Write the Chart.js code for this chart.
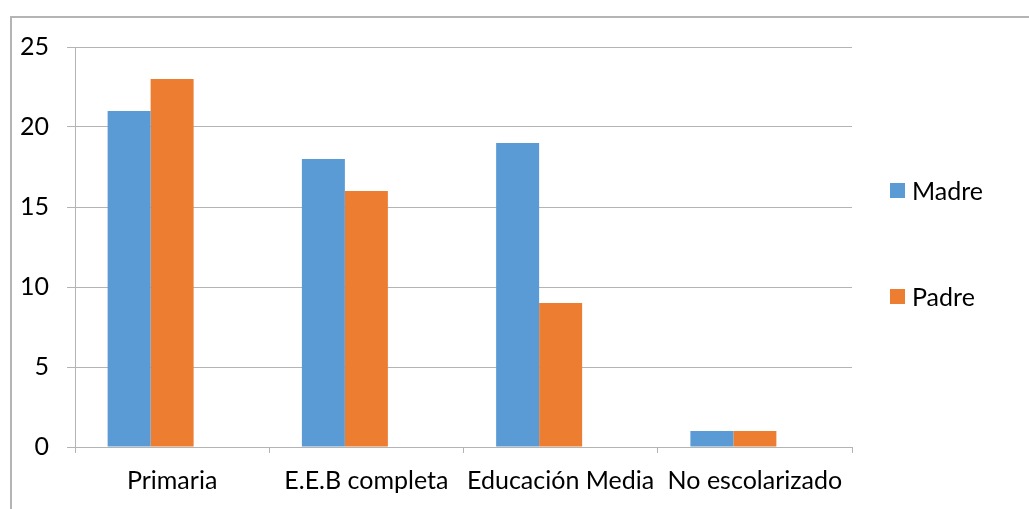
<!DOCTYPE html>
<html lang="es">
<head>
  <meta charset="UTF-8">
  <title>Nivel educativo</title>
  <script src="https://cdn.jsdelivr.net/npm/chart.js"></script>
  <style>
    body {
      margin: 0;
      width: 1029px;
      height: 509px;
      overflow: hidden;
      background: #ffffff;
      font-family: Lato, 'Noto Sans', sans-serif;
    }
    /* chart frame: only top and left edges are visible in the picture */
    .frame {
      position: absolute;
      left: 10px;
      top: 16px;
      width: 1100px;
      height: 600px;
      border-top: 2px solid #b4b4b4;
      border-left: 2px solid #b4b4b4;
      box-sizing: border-box;
    }
    .chart-box {
      position: absolute;
      left: 0;
      top: 0;
      width: 1029px;
      height: 509px;
    }
    .legend {
      position: absolute;
      left: 890px;
      top: 0;
      font-size: 25px;
      color: #000;
    }
    .legend-item {
      position: absolute;
      left: 0;
      white-space: nowrap;
      display: flex;
      align-items: center;
    }
    .swatch {
      width: 15px;
      height: 15px;
      margin-right: 7px;
    }
  </style>
</head>
<body>
  <div class="frame"></div>
  <div class="chart-box">
    <canvas id="mainChart" width="1029" height="509"></canvas>
  </div>
  <div class="legend" id="legend"></div>

  <script>
    const categories = ['Primaria', 'E.E.B completa', 'Educación Media', 'No escolarizado'];
    const madreValues = [21, 18, 19, 1];
    const padreValues = [23, 16, 9, 1];
    // the original sheet has a third, empty series slot, which pushes the bars left
    const emptyValues = [null, null, null, null];
    const seriesNames = ['Madre', 'Padre'];
    const seriesColors = ['#5b9bd5', '#ed7d31'];
    const yTicks = [0, 5, 10, 15, 20, 25];

    const gridColor = '#b4b4b4';

    // HTML legend, vertically spaced like the Excel original
    const legendTops = [190, 296];
    const legend = document.getElementById('legend');
    seriesNames.forEach((name, i) => {
      const item = document.createElement('div');
      item.className = 'legend-item';
      item.style.top = (legendTops[i] - 15) + 'px';
      item.style.height = '30px';
      item.innerHTML = '<span class="swatch" style="background:' + seriesColors[i] + '"></span>' + name;
      legend.appendChild(item);
    });

    const ctx = document.getElementById('mainChart').getContext('2d');
    new Chart(ctx, {
      type: 'bar',
      data: {
        labels: categories,
        datasets: [
          { label: seriesNames[0], data: madreValues, backgroundColor: seriesColors[0] },
          { label: seriesNames[1], data: padreValues, backgroundColor: seriesColors[1] },
          { label: '', data: emptyValues, backgroundColor: 'rgba(0,0,0,0)' }
        ]
      },
      options: {
        responsive: false,
        animation: false,
        layout: { padding: { left: 0, right: 177, top: 47, bottom: 0 } },
        datasets: { bar: { barPercentage: 1, categoryPercentage: 0.664 } },
        plugins: {
          legend: { display: false },
          tooltip: { enabled: false }
        },
        scales: {
          x: {
            offset: true,
            grid: { offset: true, drawOnChartArea: false, drawTicks: true, tickLength: 6, color: gridColor, lineWidth: 1 },
            border: { display: true, color: gridColor, width: 1 },
            ticks: { color: '#000', font: { family: 'Lato', size: 25 }, padding: 13, maxRotation: 0, autoSkip: false },
            afterFit: scale => { scale.height = 62; }
          },
          y: {
            min: 0,
            max: 25,
            afterBuildTicks: scale => { scale.ticks = yTicks.map(v => ({ value: v })); },
            grid: { color: gridColor, lineWidth: 1, tickLength: 8 },
            border: { display: true, color: gridColor, width: 1 },
            ticks: { color: '#000', font: { family: 'Lato', size: 25 }, padding: 18 },
            afterFit: scale => { scale.width = 75; }
          }
        }
      }
    });
  </script>
</body>
</html>
